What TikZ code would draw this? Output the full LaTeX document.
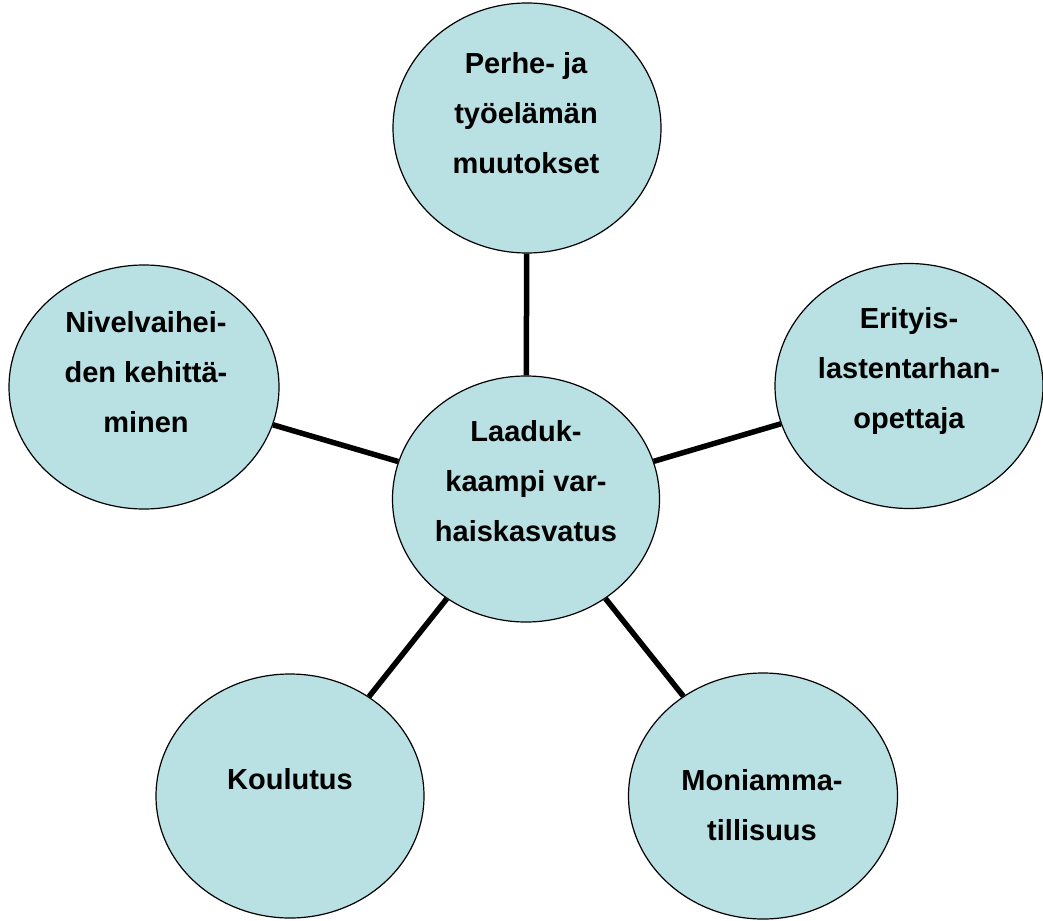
\documentclass[tikz,border=0pt]{standalone}
\usepackage{fontspec}
\setmainfont{Liberation Sans}
\usetikzlibrary{shapes.geometric}
\definecolor{bubblefill}{RGB}{185,224,227}
\begin{document}
\begin{tikzpicture}[x=1pt,y=-1pt,
  bubble/.style={ellipse,draw=black,line width=1.2pt,fill=bubblefill,
    minimum width=268pt,minimum height=246pt,inner sep=0pt},
  txt/.style={align=center,anchor=base,inner sep=0pt,
    font=\fontsize{29}{50}\selectfont\bfseries},
  link/.style={line width=5.5pt,draw=black}]
\useasboundingbox (0,0) rectangle (1043,920);
% bubbles
\node[bubble,minimum height=250pt] (top) at (527,128) {};
\node[bubble,minimum width=270pt,minimum height=244pt] (left) at (144,387) {};
\node[bubble,minimum height=245pt] (right) at (909,386) {};
\node[bubble,minimum width=267pt] (mid) at (526,499) {};
\node[bubble,minimum height=244pt] (bl) at (290,796) {};
\node[bubble,minimum width=269pt] (br) at (763,796) {};
% connectors
\draw[link] (top) -- (mid);
\draw[link] (left) -- (mid);
\draw[link] (right) -- (mid);
\draw[link] (bl) -- (mid);
\draw[link] (br) -- (mid);
% texts (anchored at the baseline of the last line)
\node[txt] (ttop) at (526,174) {Perhe- ja\\työelämän\\muutokset};
\node[txt] (tleft) at (146,432) {Nivelvaihei-\\den kehittä-\\minen};
\node[txt] (tright) at (909,428) {Erityis-\\lastentarhan-\\opettaja};
\node[txt] (tmid) at (526,541) {Laaduk-\\kaampi var-\\haiskasvatus};
\node[txt] (tbl) at (290,789) {Koulutus};
\node[txt] (tbr) at (762,840) {Moniamma-\\tillisuus};
\end{tikzpicture}
\end{document}
